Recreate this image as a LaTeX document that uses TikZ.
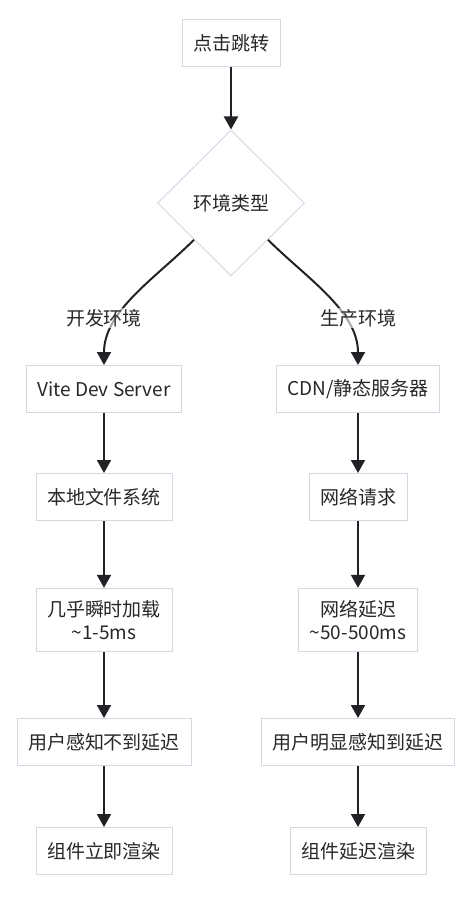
\documentclass[tikz,border=0pt]{standalone}
\usepackage{fontspec}
\newfontfamily\cjk{Noto Sans CJK SC}
\usetikzlibrary{arrows.meta, shapes.geometric}

\definecolor{boxline}{RGB}{211,217,227}
\definecolor{flowline}{RGB}{34,34,38}
\definecolor{textcol}{RGB}{40,40,40}

\tikzset{
  stepbox/.style={draw=boxline, line width=1pt, fill=white, text=textcol,
    font=\cjk\fontsize{19}{23}\selectfont, align=center,
    minimum height=47pt, inner xsep=11pt, inner ysep=12pt},
  choice/.style={draw=boxline, line width=1pt, fill=white, text=textcol,
    diamond, aspect=1, inner sep=0pt, minimum width=147pt, minimum height=146pt,
    font=\cjk\fontsize{19}{23}\selectfont},
  flow/.style={flowline, line width=2pt, -{Triangle[length=13pt,width=14pt]}},
  edgelabel/.style={fill=white, fill opacity=0.6, text opacity=1, text=textcol,
    inner sep=1pt, font=\cjk\fontsize{19}{23}\selectfont}
}

\begin{document}
\begin{tikzpicture}[x=1pt, y=-1pt]
  \useasboundingbox (0,0) rectangle (466,898);

  % Start and decision
  \node[stepbox] (click) at (231,43) {点击跳转};
  \node[choice] (envtype) at (231,203) {环境类型};

  % Development branch
  \node[stepbox] (vite) at (104,389) {Vite Dev Server};
  \node[stepbox] (localfs) at (104,497) {本地文件系统};
  \node[stepbox] (instant) at (104,620) {几乎瞬时加载\\\textasciitilde 1-5ms};
  \node[stepbox] (nodelay) at (104,742) {用户感知不到延迟};
  \node[stepbox] (renderfast) at (104,851) {组件立即渲染};

  % Production branch
  \node[stepbox] (cdn) at (358,389) {CDN/静态服务器};
  \node[stepbox] (netreq) at (358,497) {网络请求};
  \node[stepbox] (netdelay) at (358,620) {网络延迟\\\textasciitilde 50-500ms};
  \node[stepbox] (seedelay) at (358,742) {用户明显感知到延迟};
  \node[stepbox] (renderslow) at (358,851) {组件延迟渲染};

  % Connectors
  \draw[flow] (click) -- (envtype);
  \draw[flow] (envtype.south west) to[out=-135, in=90, looseness=0.9] (vite.north);
  \draw[flow] (envtype.south east) to[out=-45, in=90, looseness=0.9] (cdn.north);

  \node[edgelabel] (devlabel) at (104,318) {开发环境};
  \node[edgelabel] (prodlabel) at (358,318) {生产环境};

  \draw[flow] (vite) -- (localfs);
  \draw[flow] (localfs) -- (instant);
  \draw[flow] (instant) -- (nodelay);
  \draw[flow] (nodelay) -- (renderfast);

  \draw[flow] (cdn) -- (netreq);
  \draw[flow] (netreq) -- (netdelay);
  \draw[flow] (netdelay) -- (seedelay);
  \draw[flow] (seedelay) -- (renderslow);
\end{tikzpicture}
\end{document}
